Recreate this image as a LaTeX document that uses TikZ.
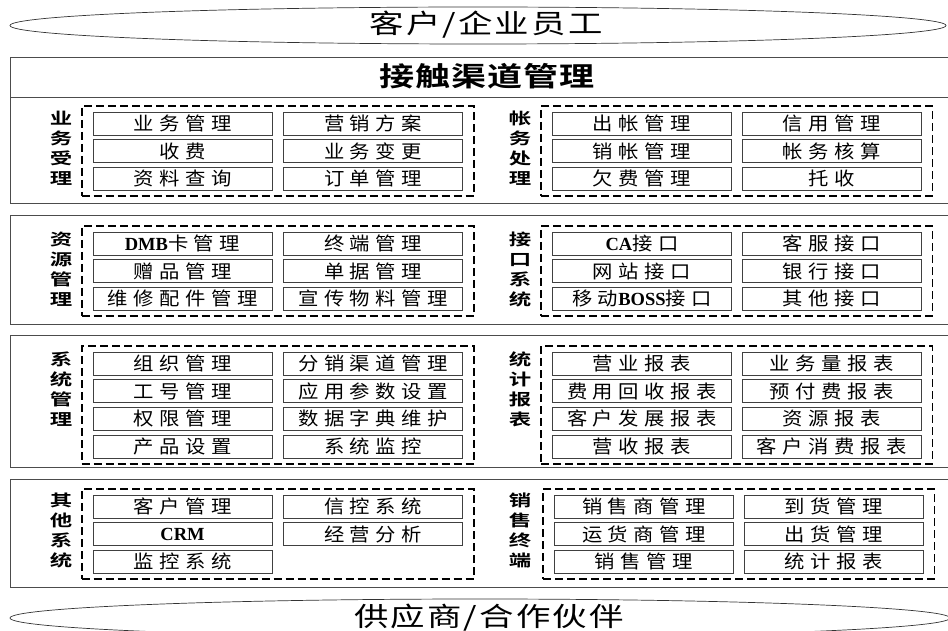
\documentclass[tikz,border=0pt]{standalone}
\usepackage{fontspec}
\usepackage{tikz}
\usetikzlibrary{positioning, fit}
\setmainfont{Liberation Serif}
\newfontfamily\latfont{Liberation Serif}
\newfontfamily\cellfont[FakeStretch=1.1,LetterSpace=30]{Noto Sans CJK SC}
\newfontfamily\sidefont[FakeStretch=1.4]{Noto Sans CJK SC Bold}
\newfontfamily\titlefont[FakeStretch=1.3,LetterSpace=8]{Noto Sans CJK SC}
\newfontfamily\headfont[FakeStretch=1.3,LetterSpace=4]{Noto Sans CJK SC Bold}
\newcommand{\lat}[1]{{\latfont\bfseries\addfontfeature{LetterSpace=0}#1}}
\newcommand{\rimColor}{black!80}
\newcommand{\panelColor}{black!70}
\tikzset{
    cell/.style = {draw=black!75, line width=0.6pt, minimum width=179pt,
        minimum height=23pt, inner sep=0pt,
        font=\cellfont\fontsize{18.5}{20}\selectfont},
    grp/.style = {draw, line width=1.8pt, dash pattern=on 8pt off 4pt,
        inner xsep=11pt, inner ysep=5.5pt},
    side/.style = {align=center, anchor=north, inner sep=0pt,
        font=\sidefont\fontsize{16}{20}\selectfont},
    panel/.style = {draw=\panelColor, line width=0.9pt},
    rim/.style = {draw=\rimColor, line width=0.7pt}
}

\begin{document}
\begin{tikzpicture}[x=1pt, y=-1pt]
    \useasboundingbox (0,0) rectangle (948,631);

    % top and bottom ellipses
    \draw[rim] (478,25.5) ellipse [x radius=468, y radius=18.5];
    \node[font=\titlefont\fontsize{26.5}{30}\selectfont] (user) at (486,25) {客户/企业员工};
    \draw[rim] (480,618) ellipse [x radius=470, y radius=19];
    \node[font=\titlefont\fontsize{26.5}{30}\selectfont] (partner) at (489,618) {供应商/合作伙伴};

    % panels
    \draw[panel] (10.5,57) rectangle (960,203);
    \draw[panel] (10.5,97) -- (960,97);
    \node[font=\headfont\fontsize{27}{30}\selectfont] (channel) at (487,76) {接触渠道管理};
    \draw[panel] (10.5,215) rectangle (960,324);
    \draw[panel] (10.5,335) rectangle (960,467);
    \draw[panel] (10.5,479) rectangle (960,587);

    % business handling
    \node[side] (busLab) at (61,110.5) {业\\务\\受\\理};
    \node[cell] (bus1) at (182.5,123.5) {业务管理};
    \node[cell, right=11pt of bus1] (bus2) {营销方案};
    \node[cell, below=4pt of bus1] (bus3) {收费};
    \node[cell, below=4pt of bus2] (bus4) {业务变更};
    \node[cell, below=4pt of bus3] (bus5) {资料查询};
    \node[cell, below=4pt of bus4] (bus6) {订单管理};
    \node[grp, fit=(bus1)(bus6)] (busGrp) {};

    % accounting
    \node[side] (accLab) at (520,110.5) {帐\\务\\处\\理};
    \node[cell] (acc1) at (642,123.5) {出帐管理};
    \node[cell, right=10pt of acc1] (acc2) {信用管理};
    \node[cell, below=4pt of acc1] (acc3) {销帐管理};
    \node[cell, below=4pt of acc2] (acc4) {帐务核算};
    \node[cell, below=4pt of acc3] (acc5) {欠费管理};
    \node[cell, below=4pt of acc4] (acc6) {托收};
    \node[grp, fit=(acc1)(acc6)] (accGrp) {};

    % resources
    \node[side] (resLab) at (61,231.5) {资\\源\\管\\理};
    \node[cell] (res1) at (182.5,243.5) {\lat{DMB}卡管理};
    \node[cell, right=11pt of res1] (res2) {终端管理};
    \node[cell, below=4pt of res1] (res3) {赠品管理};
    \node[cell, below=4pt of res2] (res4) {单据管理};
    \node[cell, below=4pt of res3] (res5) {维修配件管理};
    \node[cell, below=4pt of res4] (res6) {宣传物料管理};
    \node[grp, fit=(res1)(res6)] (resGrp) {};

    % interfaces
    \node[side] (ifLab) at (520,231.5) {接\\口\\系\\统};
    \node[cell] (if1) at (642,243.5) {\lat{CA}接口};
    \node[cell, right=10pt of if1] (if2) {客服接口};
    \node[cell, below=4pt of if1] (if3) {网站接口};
    \node[cell, below=4pt of if2] (if4) {银行接口};
    \node[cell, below=4pt of if3] (if5) {移动\lat{BOSS}接口};
    \node[cell, below=4pt of if4] (if6) {其他接口};
    \node[grp, fit=(if1)(if6)] (ifGrp) {};

    % system management
    \node[side] (sysLab) at (61,351.5) {系\\统\\管\\理};
    \node[cell] (sys1) at (182.5,363.5) {组织管理};
    \node[cell, right=11pt of sys1] (sys2) {分销渠道管理};
    \node[cell, below=4pt of sys1] (sys3) {工号管理};
    \node[cell, below=4pt of sys2] (sys4) {应用参数设置};
    \node[cell, below=4pt of sys3] (sys5) {权限管理};
    \node[cell, below=4pt of sys4] (sys6) {数据字典维护};
    \node[cell, below=4pt of sys5] (sys7) {产品设置};
    \node[cell, below=4pt of sys6] (sys8) {系统监控};
    \node[grp, fit=(sys1)(sys8)] (sysGrp) {};

    % reports
    \node[side] (repLab) at (520,351.5) {统\\计\\报\\表};
    \node[cell] (rep1) at (642,363.5) {营业报表};
    \node[cell, right=10pt of rep1] (rep2) {业务量报表};
    \node[cell, below=4pt of rep1] (rep3) {费用回收报表};
    \node[cell, below=4pt of rep2] (rep4) {预付费报表};
    \node[cell, below=4pt of rep3] (rep5) {客户发展报表};
    \node[cell, below=4pt of rep4] (rep6) {资源报表};
    \node[cell, below=4pt of rep5] (rep7) {营收报表};
    \node[cell, below=4pt of rep6] (rep8) {客户消费报表};
    \node[grp, fit=(rep1)(rep8)] (repGrp) {};

    % other systems
    \node[side] (othLab) at (61,492.5) {其\\他\\系\\统};
    \node[cell] (oth1) at (182.5,506.5) {客户管理};
    \node[cell, right=11pt of oth1] (oth2) {信控系统};
    \node[cell, below=4pt of oth1] (oth3) {\lat{CRM}};
    \node[cell, below=4pt of oth2] (oth4) {经营分析};
    \node[cell, below=4pt of oth3] (oth5) {监控系统};
    \node[grp, fit=(oth1)(oth4)(oth5)] (othGrp) {};

    % sales terminals
    \node[side] (salLab) at (520,492.5) {销\\售\\终\\端};
    \node[cell] (sal1) at (644,506.5) {销售商管理};
    \node[cell, right=10pt of sal1] (sal2) {到货管理};
    \node[cell, below=4pt of sal1] (sal3) {运货商管理};
    \node[cell, below=4pt of sal2] (sal4) {出货管理};
    \node[cell, below=4pt of sal3] (sal5) {销售管理};
    \node[cell, below=4pt of sal4] (sal6) {统计报表};
    \node[grp, fit=(sal1)(sal6)] (salGrp) {};
\end{tikzpicture}
\end{document}
